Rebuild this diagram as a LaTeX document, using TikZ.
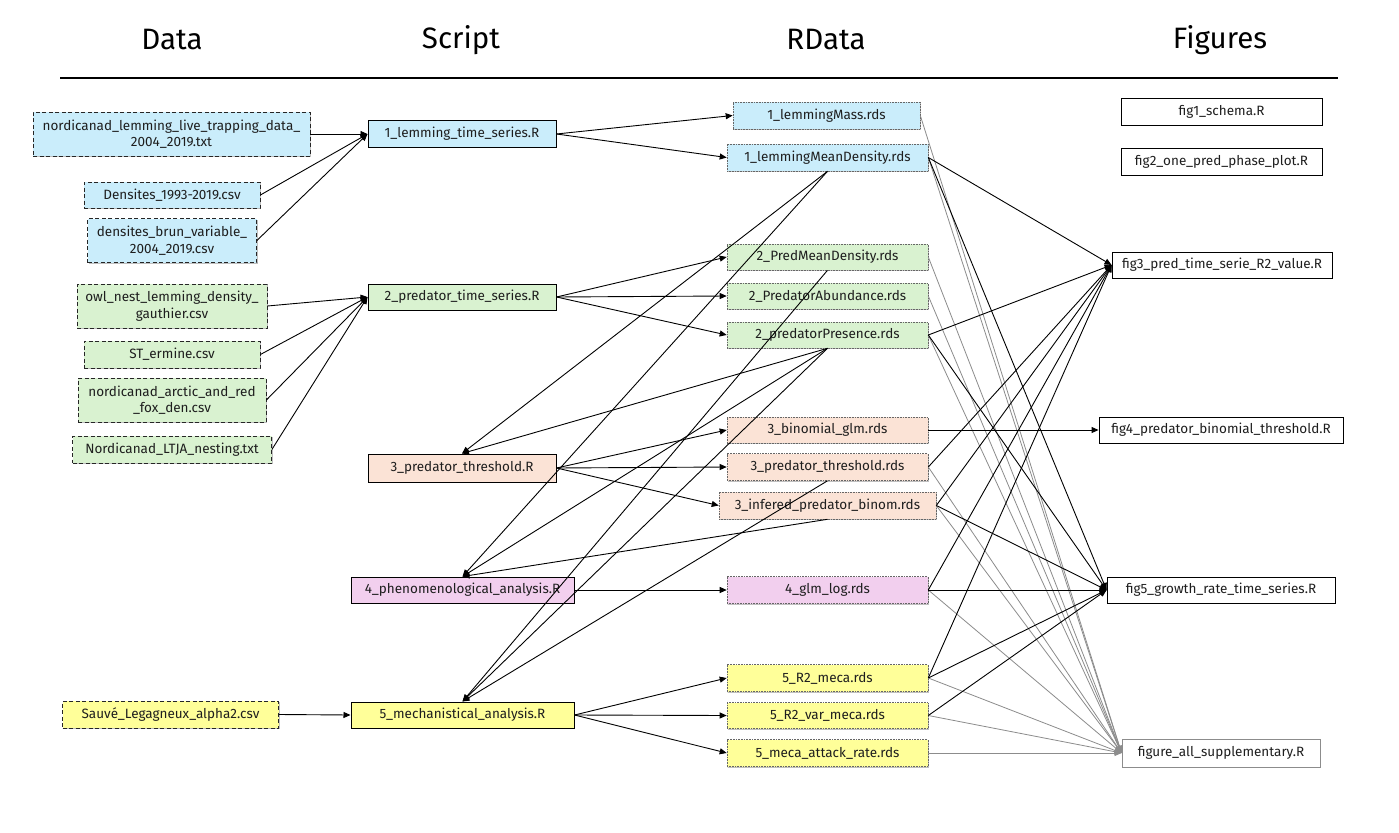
\documentclass[tikz,border=0pt]{standalone}
\usepackage{fontspec}
\setmainfont{Fira Sans}
\usetikzlibrary{arrows.meta,shadows}
\definecolor{cblue}{RGB}{202,237,251}
\definecolor{cgreen}{RGB}{217,242,208}
\definecolor{cpeach}{RGB}{251,227,214}
\definecolor{cpink}{RGB}{242,207,238}
\definecolor{cyellow}{RGB}{255,255,153}
\definecolor{textc}{RGB}{30,30,30}
\definecolor{gline}{RGB}{140,140,140}
\begin{document}
\begin{tikzpicture}[x=1pt,y=-1pt,
  base/.style={rectangle, inner sep=0pt, font=\fontsize{13.5}{16.5}\selectfont, text=textc, align=center},
  shad/.style={drop shadow={shadow xshift=1.2pt, shadow yshift=-1.2pt, fill=black, opacity=0.25}},
  data/.style={base, shad, draw=black!85, line width=0.8pt, dash pattern=on 4pt off 2.5pt},
  scr/.style={base, shad, draw=black, line width=1pt},
  rds/.style={base, shad, draw=black!60, line width=0.6pt, dash pattern=on 0.8pt off 0.8pt},
  fig/.style={base, draw=black, line width=0.9pt, fill=white},
  figg/.style={base, draw=gline, line width=0.9pt, fill=white},
  head/.style={font=\fontsize{29.5}{33}\selectfont, text=black},
  arr/.style={draw=black, line width=0.9pt, -{Triangle[length=7pt,width=6pt]}},
  garr/.style={draw=gline, line width=0.8pt, -{Triangle[length=7pt,width=6pt]}},
  ]
\useasboundingbox (0,0) rectangle (1399,832);
\fill[white] (0,0) rectangle (1399,832);

% headers
\node[head] (hData) at (172,40) {Data};
\node[head] (hScript) at (461,40) {Script};
\node[head] (hRData) at (826,40) {RData};
\node[head] (hFig) at (1220,40) {Figures};
\coordinate (rl) at (60,78);
\coordinate (rr) at (1338,78);
\draw[line width=1.5pt] (rl) -- (rr);

% data
\node[data, fill=cblue, minimum width=277pt, minimum height=44pt] (D1) at (171.5,134) {nordicanad\_lemming\_live\_trapping\_data\_\\2004\_2019.txt};
\node[data, fill=cblue, minimum width=176pt, minimum height=26pt] (D2) at (172,195) {Densites\_1993-2019.csv};
\node[data, fill=cblue, minimum width=169pt, minimum height=44pt] (D3) at (172,240.5) {densites\_brun\_variable\_\\2004\_2019.csv};
\node[data, fill=cgreen, minimum width=190pt, minimum height=44pt] (D4) at (172,306) {owl\_nest\_lemming\_density\_\\gauthier.csv};
\node[data, fill=cgreen, minimum width=176pt, minimum height=27pt] (D5) at (172,354.5) {ST\_ermine.csv};
\node[data, fill=cgreen, minimum width=188pt, minimum height=44pt] (D6) at (172,400) {nordicanad\_arctic\_and\_red\\\_fox\_den.csv};
\node[data, fill=cgreen, minimum width=199pt, minimum height=27pt] (D7) at (172,449.5) {Nordicanad\_LTJA\_nesting.txt};
\node[data, fill=cyellow, minimum width=216pt, minimum height=27pt] (D8) at (170.5,714.5) {Sauvé\_Legagneux\_alpha2.csv};

% scripts
\node[scr, fill=cblue, minimum width=188pt, minimum height=26pt] (S1) at (462,134) {1\_lemming\_time\_series.R};
\node[scr, fill=cgreen, minimum width=188pt, minimum height=26pt] (S2) at (462,297) {2\_predator\_time\_series.R};
\node[scr, fill=cpeach, minimum width=188pt, minimum height=28pt] (S3) at (462,468) {3\_predator\_threshold.R};
\node[scr, fill=cpink, minimum width=223pt, minimum height=26pt] (S4) at (462.5,590) {4\_phenomenological\_analysis.R};
\node[scr, fill=cyellow, minimum width=223pt, minimum height=26pt] (S5) at (462.5,715) {5\_mechanistical\_analysis.R};

% rdata
\node[rds, fill=cblue, minimum width=187pt, minimum height=27pt] (R1) at (826.5,115.5) {1\_lemmingMass.rds};
\node[rds, fill=cblue, minimum width=201pt, minimum height=27pt] (R2) at (827.5,157.5) {1\_lemmingMeanDensity.rds};
\node[rds, fill=cgreen, minimum width=201pt, minimum height=26pt] (R3) at (827.5,257) {2\_PredMeanDensity.rds};
\node[rds, fill=cgreen, minimum width=201pt, minimum height=26pt] (R4) at (827.5,296) {2\_PredatorAbundance.rds};
\node[rds, fill=cgreen, minimum width=201pt, minimum height=26pt] (R5) at (827.5,335) {2\_predatorPresence.rds};
\node[rds, fill=cpeach, minimum width=201pt, minimum height=26pt] (R6) at (827.5,430) {3\_binomial\_glm.rds};
\node[rds, fill=cpeach, minimum width=201pt, minimum height=27pt] (R7) at (827.5,467) {3\_predator\_threshold.rds};
\node[rds, fill=cpeach, minimum width=217pt, minimum height=27pt] (R8) at (827.5,505.5) {3\_infered\_predator\_binom.rds};
\node[rds, fill=cpink, minimum width=201pt, minimum height=27pt] (R9) at (827.5,590) {4\_glm\_log.rds};
\node[rds, fill=cyellow, minimum width=201pt, minimum height=27pt] (R10) at (827.5,678) {5\_R2\_meca.rds};
\node[rds, fill=cyellow, minimum width=201pt, minimum height=26pt] (R11) at (827.5,715.5) {5\_R2\_var\_meca.rds};
\node[rds, fill=cyellow, minimum width=201pt, minimum height=27pt] (R12) at (827.5,753) {5\_meca\_attack\_rate.rds};

% figures
\node[fig, minimum width=201pt, minimum height=27pt] (F1) at (1221.5,112) {fig1\_schema.R};
\node[fig, minimum width=201pt, minimum height=27pt] (F2) at (1221.5,162) {fig2\_one\_pred\_phase\_plot.R};
\node[fig, minimum width=220pt, minimum height=26pt] (F3) at (1222,265) {fig3\_pred\_time\_serie\_R2\_value.R};
\node[fig, minimum width=244pt, minimum height=26pt] (F4) at (1221,430) {fig4\_predator\_binomial\_threshold.R};
\node[fig, minimum width=228pt, minimum height=26pt] (F5) at (1221,590) {fig5\_growth\_rate\_time\_series.R};
\node[figg, minimum width=198pt, minimum height=28pt] (F6) at (1221,753) {figure\_all\_supplementary.R};

% gray edges to supplementary (drawn first, underneath)
\foreach \r in {R1,R2,R3,R4,R5,R7,R8,R9,R10,R11,R12}
  \draw[garr] (\r.east) -- (F6.west);

% data -> scripts
\foreach \d in {D1,D2,D3} \draw[arr] (\d.east) -- (S1.west);
\foreach \d in {D4,D5,D6,D7} \draw[arr] (\d.east) -- (S2.west);
\draw[arr] (D8.east) -- (S5.west);

% scripts -> rdata
\foreach \r in {R1,R2} \draw[arr] (S1.east) -- (\r.west);
\foreach \r in {R3,R4,R5} \draw[arr] (S2.east) -- (\r.west);
\foreach \r in {R6,R7,R8} \draw[arr] (S3.east) -- (\r.west);
\draw[arr] (S4.east) -- (R9.west);
\foreach \r in {R10,R11,R12} \draw[arr] (S5.east) -- (\r.west);

% rdata -> scripts
\foreach \r in {R2,R5} \draw[arr] (\r.south) -- (S3.north);
\foreach \r in {R2,R5,R8} \draw[arr] (\r.south) -- (S4.north);
\foreach \r in {R3,R5,R7} \draw[arr] (\r.south) -- (S5.north);

% rdata -> figures
\foreach \r in {R2,R5,R7,R8,R9,R10} \draw[arr] (\r.east) -- (F3.west);
\draw[arr] (R6.east) -- (F4.west);
\foreach \r in {R2,R5,R8,R9,R10,R11} \draw[arr] (\r.east) -- (F5.west);
\end{tikzpicture}
\end{document}
